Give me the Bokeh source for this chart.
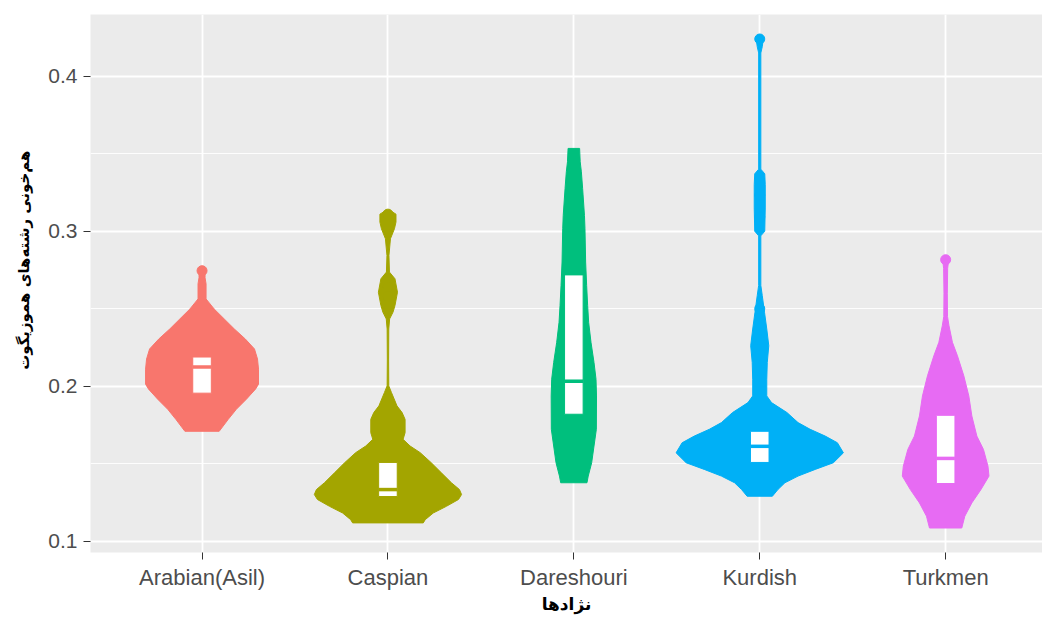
import numpy as np
from bokeh.plotting import figure
from bokeh.models import Range1d, FixedTicker, Title
from bokeh.embed import file_html
from bokeh.resources import INLINE

# ---------------- data ----------------
breeds = ["Arabian(Asil)", "Caspian", "Dareshouri", "Kurdish", "Turkmen"]
colors = ["#F8766D", "#A3A500", "#00BF7D", "#00B0F6", "#E76BF3"]

# violin profiles: value (top -> bottom) and relative density (1 = widest)
arabian_y = [0.2745, 0.2700, 0.2660, 0.2563, 0.2498, 0.2434, 0.2369, 0.2304, 0.2240,
             0.2175, 0.2110, 0.2013, 0.1981, 0.1916, 0.1851, 0.1786, 0.1709]
arabian_d = [0.036, 0.036, 0.048, 0.048, 0.145, 0.265, 0.386, 0.518, 0.627,
             0.663, 0.675, 0.675, 0.639, 0.530, 0.410, 0.313, 0.205]

caspian_y = [0.3130, 0.3110, 0.3059, 0.3016, 0.2951, 0.2843, 0.2736, 0.2693, 0.2606,
             0.2520, 0.2477, 0.2434, 0.2369, 0.2175, 0.2002, 0.1959, 0.1873, 0.1830,
             0.1786, 0.1700, 0.1657, 0.1614, 0.1571, 0.1506, 0.1441, 0.1377, 0.1333,
             0.1301, 0.1269, 0.1225, 0.1182, 0.1139, 0.1118]
caspian_d = [0.036, 0.096, 0.096, 0.078, 0.030, 0.012, 0.018, 0.084, 0.114,
             0.084, 0.060, 0.020, 0.010, 0.008, 0.010, 0.042, 0.108, 0.169,
             0.205, 0.205, 0.181, 0.265, 0.386, 0.518, 0.639, 0.759, 0.855,
             0.880, 0.843, 0.699, 0.542, 0.446, 0.422]

dareshouri_y = [0.3534, 0.3448, 0.3383, 0.3275, 0.3102, 0.3016, 0.2801, 0.2649, 0.2520,
                0.2412, 0.2283, 0.2153, 0.2045, 0.1937, 0.1722, 0.1614, 0.1506, 0.1420,
                0.1377]
dareshouri_d = [0.069, 0.076, 0.090, 0.105, 0.127, 0.133, 0.141, 0.153, 0.165,
                0.177, 0.205, 0.241, 0.265, 0.271, 0.269, 0.241, 0.213, 0.172,
                0.157]

kurdish_y = [0.4245, 0.4230, 0.4190, 0.4150, 0.3400, 0.3370, 0.3300, 0.3150, 0.3000,
             0.2970, 0.2650, 0.2585, 0.2477, 0.2369, 0.2261, 0.2153, 0.2045, 0.1937,
             0.1894, 0.1830, 0.1765, 0.1722, 0.1678, 0.1635, 0.1570, 0.1506, 0.1463,
             0.1420, 0.1377, 0.1333, 0.1290]
kurdish_d = [0.024, 0.040, 0.030, 0.013, 0.013, 0.060, 0.066, 0.066, 0.060,
             0.013, 0.013, 0.030, 0.057, 0.084, 0.108, 0.090, 0.084, 0.084,
             0.141, 0.325, 0.458, 0.602, 0.783, 0.928, 1.000, 0.880, 0.663,
             0.458, 0.301, 0.217, 0.151]

turkmen_y = [0.2816, 0.2760, 0.2600, 0.2450, 0.2390, 0.2283, 0.2196, 0.2067, 0.1937,
             0.1808, 0.1678, 0.1592, 0.1484, 0.1420, 0.1333, 0.1247, 0.1161, 0.1085]
turkmen_d = [0.036, 0.024, 0.020, 0.022, 0.040, 0.081, 0.141, 0.217, 0.277,
             0.313, 0.373, 0.452, 0.506, 0.518, 0.422, 0.313, 0.229, 0.193]

# box-plot statistics
q1 = [0.1955, 0.1288, 0.1819, 0.1508, 0.1372]
median = [0.2123, 0.1333, 0.2032, 0.1612, 0.1534]
q3 = [0.2188, 0.1508, 0.2718, 0.1709, 0.1812]

# outliers
arabian_out = [0.2745]
caspian_out = [0.3110, 0.2640, 0.2580]
dareshouri_out = []
kurdish_out = [0.4240, 0.3232, 0.3092, 0.2500, 0.2400, 0.2300, 0.2200, 0.2100]
turkmen_out = [0.2816]

y_ticks = [0.1, 0.2, 0.3, 0.4]
y_minor_ticks = [0.15, 0.25, 0.35]

y_title = "هم‌خونی رشته‌های هموزیگوت"
x_title = "نژادها"

profiles = [(arabian_y, arabian_d), (caspian_y, caspian_d), (dareshouri_y, dareshouri_d),
            (kurdish_y, kurdish_d), (turkmen_y, turkmen_d)]
outs = [arabian_out, caspian_out, dareshouri_out, kurdish_out, turkmen_out]

# ---------------- figure ----------------
p = figure(frame_width=952, frame_height=538,
           min_border_left=90, min_border_right=0, min_border_top=14, min_border_bottom=59,
           x_range=Range1d(0.4, 5.521), y_range=Range1d(0.0927, 0.4398),
           output_backend="svg", toolbar_location=None)

p.background_fill_color = "#EBEBEB"
p.border_fill_color = "white"
p.outline_line_color = None

half_max = 0.45
for i, ((ys, ds), col, ol) in enumerate(zip(profiles, colors, outs)):
    c = i + 1
    hw = np.array(ds) * half_max
    yv = np.array(ys)
    xs = np.concatenate([c + hw, (c - hw)[::-1]])
    yy = np.concatenate([yv, yv[::-1]])
    p.patch(xs, yy, fill_color=col, line_color=col, line_width=1)
    if ol:
        p.scatter(x=[c] * len(ol), y=ol, size=10, color=col)
    p.quad(left=[c - 0.05], right=[c + 0.05], bottom=[q1[i]], top=[q3[i]],
           fill_color="white", line_color=col, line_width=1)
    p.segment(x0=[c - 0.05], y0=[median[i]], x1=[c + 0.05], y1=[median[i]],
              line_color=col, line_width=3.5)

# axes
xt = FixedTicker(ticks=[1, 2, 3, 4, 5])
p.xaxis.ticker = xt
p.xgrid.ticker = xt
p.xaxis.major_label_overrides = {i + 1: b for i, b in enumerate(breeds)}
yt = FixedTicker(ticks=y_ticks, minor_ticks=y_minor_ticks)
p.yaxis.ticker = yt
p.ygrid.ticker = yt

for ax in (p.xaxis[0], p.yaxis[0]):
    ax.axis_line_color = None
    ax.major_tick_line_color = "#333333"
    ax.major_tick_line_width = 1
    ax.major_tick_out = 7
    ax.major_tick_in = 0
    ax.minor_tick_line_color = None
    ax.major_label_text_font = "Liberation Sans"
    ax.major_label_text_color = "#4D4D4D"

p.xaxis.major_label_text_font_size = "22px"
p.xaxis.major_label_standoff = 5
p.yaxis.major_label_text_font_size = "21px"
p.yaxis.major_label_standoff = 6

p.xaxis.axis_label = x_title
p.xaxis.axis_label_text_font = "DejaVu Sans"
p.xaxis.axis_label_text_font_size = "17px"
p.xaxis.axis_label_text_font_style = "bold"
p.xaxis.axis_label_text_color = "black"
p.xaxis.axis_label_standoff = 1

p.xgrid.grid_line_color = "white"
p.xgrid.grid_line_width = 1.8
p.ygrid.grid_line_color = "white"
p.ygrid.grid_line_width = 1.8
p.ygrid.minor_grid_line_color = "white"
p.ygrid.minor_grid_line_width = 0.9

t = Title(text=y_title, align="right", offset=136, standoff=25,
          text_font="DejaVu Sans", text_font_size="15px", text_font_style="bold",
          text_color="black")
p.add_layout(t, "left")

open("out.html", "w").write(file_html(p, INLINE))
